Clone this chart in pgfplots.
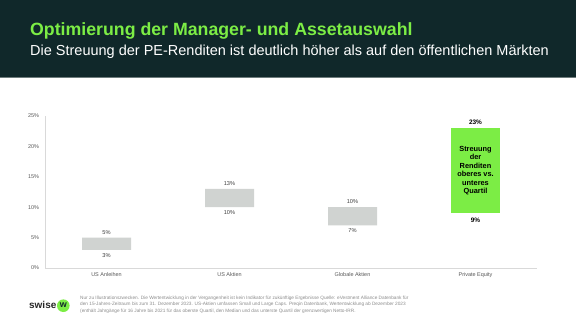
\documentclass[border=0pt]{standalone}
\usepackage{fontspec}
\setmainfont{Liberation Sans}
\usepackage{pgfplots}
\pgfplotsset{compat=1.18}
\definecolor{hdr}{HTML}{10282A}
\definecolor{lime}{HTML}{7CED45}
\definecolor{bargray}{HTML}{D0D3D1}
\definecolor{axgray}{HTML}{D9D9D9}
\definecolor{tickgray}{HTML}{595959}
\definecolor{lblgray}{HTML}{404040}
\definecolor{footgray}{HTML}{8C8C8C}
\definecolor{sepline}{HTML}{6E7C7C}

\pgfplotsset{
  common/.style={
    scale only axis, width=492bp, height=152bp,
    at={(45bp,56bp)}, anchor=south west,
    xmin=-0.5, xmax=3.5, ymin=0, ymax=25,
  }
}

\begin{document}
\begin{tikzpicture}[x=1bp,y=1bp]
\path[use as bounding box] (0,0) rectangle (576,324);
\fill[white] (0,0) rectangle (576,324);
\fill[hdr] (0,246) rectangle (576,324);
\draw[line width=0.8bp, sepline] (0,246.4) -- (576,246.4);
\node[anchor=base west, inner sep=0, font=\fontsize{17.8}{20}\selectfont\bfseries, text=lime] at (30,289) {Optimierung der Manager- und Assetauswahl};
\node[anchor=base west, inner sep=0, font=\fontsize{14.55}{16}\selectfont, text=white] at (30,268.5) {Die Streuung der PE-Renditen ist deutlich höher als auf den öffentlichen Märkten};

\begin{axis}[common,
  ybar stacked, bar width=49bp,
  axis x line*=bottom, axis y line*=left,
  axis line style={axgray, line width=0.6bp, -},
  xtick={0,1,2,3},
  xticklabels={US Anleihen, US Aktien, Globale Aktien, Private Equity},
  ytick={0,5,10,15,20,25},
  yticklabel={\pgfmathprintnumber{\tick}\%},
  /pgf/number format/assume math mode=true,
  major tick length=0pt,
  tick label style={font=\fontsize{5.5}{6}\selectfont, text=tickgray},
  yticklabel style={xshift=-2.5bp},
  xticklabel style={yshift=-1bp},
]
\addplot[draw=none, fill=none] coordinates {(0,3) (1,10) (2,7) (3,9)};
\addplot[draw=none, fill=bargray] coordinates {(0,2) (1,3) (2,3) (3,0)};
\addplot[draw=none, fill=lime] coordinates {(0,0) (1,0) (2,0) (3,14)};
\end{axis}

\begin{axis}[common, hide axis]
\addplot[draw=none, mark=none, nodes near coords, point meta=explicit symbolic,
  nodes near coords style={anchor=center, yshift=5.3bp, font=\fontsize{5.7}{6}\selectfont, text=lblgray}]
  coordinates {(0,5) [5\%] (1,13) [13\%] (2,10) [10\%]};
\addplot[draw=none, mark=none, nodes near coords, point meta=explicit symbolic,
  nodes near coords style={anchor=center, yshift=-5.5bp, font=\fontsize{5.7}{6}\selectfont, text=lblgray}]
  coordinates {(0,3) [3\%] (1,10) [10\%] (2,7) [7\%]};
\addplot[draw=none, mark=none, nodes near coords, point meta=explicit symbolic,
  nodes near coords style={anchor=center, yshift=6.3bp, font=\fontsize{6.5}{7}\selectfont\bfseries, text=black}]
  coordinates {(3,23) [23\%]};
\addplot[draw=none, mark=none, nodes near coords, point meta=explicit symbolic,
  nodes near coords style={anchor=center, yshift=-7bp, font=\fontsize{6.5}{7}\selectfont\bfseries, text=black}]
  coordinates {(3,9) [9\%]};
\addplot[draw=none, mark=none, nodes near coords, point meta=explicit symbolic,
  nodes near coords style={anchor=center, align=center, font=\fontsize{7.4}{8.6}\selectfont\bfseries, text=black}]
  coordinates {(3,16) [{Streuung\\der\\Renditen\\oberes vs.\\unteres\\Quartil}]};
\end{axis}

\node[anchor=north west, align=left, inner sep=0, font=\fontsize{4.75}{6.5}\selectfont, text=footgray] at (80,28.5) {Nur zu Illustrationszwecken.  Die Wertentwicklung  in der Vergangenheit ist kein Indikator  für zukünftige  Ergebnisse Quelle:  eVestment Alliance Datenbank für\\den 15-Jahres-Zeitraum  bis zum 31. Dezember 2023. US-Aktien umfassen  Small und Large Caps. Preqin Datenbank, Wertentwicklung  ab Dezember 2023\\(enthält  Jahrgänge für 16 Jahre bis 2021 für das oberste Quartil,  den Median und das unterste  Quartil der grenzwertigen  Netto-IRR.};

\fill[lime] (63.3,18.3) circle (6.3);
\node[anchor=base west, inner sep=0, font=\fontsize{10}{11}\selectfont\bfseries, text=black!85] at (29,15.2) {swise};
\node[inner sep=0, font=\fontsize{9}{10}\selectfont\bfseries, text=hdr] at (63.3,18.8) {w};
\end{tikzpicture}
\end{document}
